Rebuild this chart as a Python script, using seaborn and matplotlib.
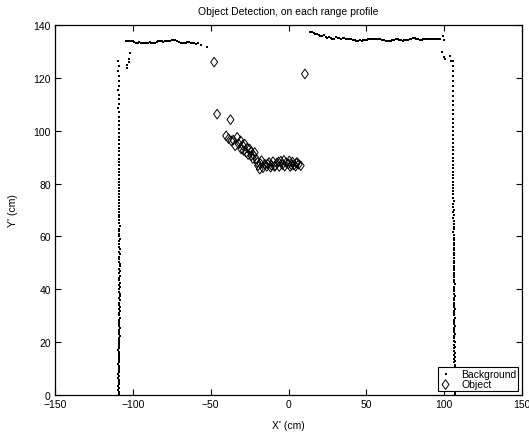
import matplotlib
matplotlib.use("Agg")
import matplotlib.pyplot as plt
import pandas as pd
import seaborn as sns

# ===== DATA =====
# left wall of the room
LW_Y = [0.4, 1.1, 1.9, 2.6, 3.4, 4.1, 4.9, 5.6, 6.4, 7.1,
        7.9, 8.6, 9.4, 10.1, 10.9, 11.6, 12.4, 13.1, 13.9, 14.6,
        15.4, 16.1, 16.9, 17.6, 18.4, 19.2, 19.9, 20.7, 21.5, 22.2,
        23.0, 23.8, 24.5, 25.3, 26.1, 26.9, 27.7, 28.5, 29.3, 30.1,
        30.9, 31.7, 32.5, 33.3, 34.1, 34.9, 35.8, 36.6, 37.4, 38.3,
        39.1, 40.0, 40.8, 41.7, 42.5, 43.4, 44.3, 45.1, 46.0, 46.9,
        47.8, 48.7, 49.6, 50.5, 51.4, 52.4, 53.3, 54.2, 55.2, 56.1,
        57.1, 58.1, 59.0, 60.0, 61.0, 62.0, 63.0, 64.0, 65.1, 66.1,
        67.2, 68.2, 69.3, 70.4, 71.5, 72.6, 73.7, 74.8, 76.0, 77.1,
        78.3, 79.5, 80.7, 81.9, 83.1, 84.4, 85.6, 86.9, 88.2, 89.5,
        90.9, 92.2, 93.6, 95.0, 96.4, 97.8, 99.3, 100.8, 102.3, 103.8,
        105.4, 107.0, 108.6, 110.2, 111.9, 113.6, 115.3, 117.1, 118.9, 120.7,
        122.6, 124.5, 126.4]
LW_X = [-109.2, -109.0, -109.3, -109.1, -109.4, -109.0, -109.2, -108.9, -109.3, -109.1,
        -109.4, -109.0, -109.2, -108.8, -109.1, -109.3, -108.9, -109.2, -109.0, -108.7,
        -109.1, -108.9, -109.3, -108.8, -109.0, -108.6, -108.9, -109.2, -108.8, -108.5,
        -108.9, -109.1, -108.7, -108.5, -108.8, -109.0, -108.6, -108.9, -108.4, -108.7,
        -108.9, -108.5, -108.8, -108.3, -108.6, -108.9, -108.5, -108.7, -108.4, -108.2,
        -108.6, -108.8, -108.4, -108.7, -108.5, -108.9, -108.6, -108.3, -108.7, -108.5,
        -108.8, -108.5, -108.3, -108.7, -108.9, -108.6, -108.4, -108.8, -108.5, -108.7,
        -108.9, -108.6, -108.4, -108.8, -108.6, -108.9, -108.7, -108.5, -108.8, -109.0,
        -108.7, -108.9, -108.6, -108.8, -109.0, -108.7, -108.9, -109.1, -108.8, -109.0,
        -108.8, -109.1, -108.9, -109.0, -108.8, -109.1, -108.9, -109.2, -109.0, -108.9,
        -109.1, -109.0, -109.2, -108.9, -109.1, -109.0, -109.2, -109.0, -109.1, -109.2,
        -109.0, -109.1, -109.3, -109.0, -109.2, -109.1, -109.3, -109.0, -109.2, -109.1,
        -109.3, -109.2, -109.4]

# stray returns in the top-left corner
LC_X = [-102.0, -102.3, -102.7, -103.6, -104.0]
LC_Y = [129.3, 127.0, 126.2, 124.8, 123.9]

# back wall, left part
TL_X = [-104.6, -103.5, -102.4, -101.3, -100.2, -99.1, -98.0, -96.9, -95.8, -94.7,
        -93.6, -92.5, -91.4, -90.3, -89.2, -88.1, -87.0, -85.9, -84.8, -83.7,
        -82.6, -81.5, -80.4, -79.3, -78.2, -77.1, -76.0, -74.9, -73.8, -72.7,
        -71.6, -70.5, -69.4, -68.3, -67.2, -66.1, -65.0, -63.9, -62.8, -61.7,
        -60.6, -59.5, -58.4, -56.0, -52.6]
TL_Y = [133.9, 134.0, 133.9, 133.8, 133.8, 133.5, 133.4, 133.4, 133.5, 133.4,
        133.4, 133.3, 133.4, 133.4, 133.5, 133.4, 133.3, 133.4, 133.6, 133.9,
        134.0, 133.8, 133.5, 133.9, 134.1, 133.9, 134.0, 134.2, 134.3, 134.2,
        133.8, 133.5, 133.4, 133.3, 133.3, 133.2, 133.5, 133.6, 133.4, 133.2,
        133.3, 133.0, 133.1, 132.6, 131.6]

# back wall, right part
TR_X = [13.9, 15.0, 16.1, 17.2, 18.3, 19.4, 20.5, 21.6, 22.7, 23.8,
        24.9, 26.0, 27.1, 28.2, 29.3, 30.4, 31.5, 32.6, 33.7, 34.8,
        35.9, 37.0, 38.1, 39.2, 40.3, 41.4, 42.5, 43.6, 44.7, 45.8,
        46.9, 48.0, 49.1, 50.2, 51.3, 52.4, 53.5, 54.6, 55.7, 56.8,
        57.9, 59.0, 60.1, 61.2, 62.3, 63.4, 64.5, 65.6, 66.7, 67.8,
        68.9, 70.0, 71.1, 72.2, 73.3, 74.4, 75.5, 76.6, 77.7, 78.8,
        79.9, 81.0, 82.1, 83.2, 84.3, 85.4, 86.5, 87.6, 88.7, 89.8,
        90.9, 92.0, 93.1, 94.2, 95.3, 96.4, 97.5, 99.1, 99.6]
TR_Y = [137.2, 137.2, 137.0, 136.8, 136.5, 136.2, 136.0, 135.8, 136.1, 135.6,
        135.3, 135.5, 135.0, 134.7, 134.9, 135.5, 135.2, 135.1, 134.9, 135.3,
        135.0, 134.8, 134.7, 134.9, 134.6, 134.5, 134.3, 134.1, 134.0, 134.2,
        134.0, 134.2, 134.4, 134.5, 134.6, 134.7, 134.8, 134.7, 134.6, 134.8,
        134.9, 134.7, 134.5, 134.2, 133.9, 133.8, 134.0, 134.1, 134.2, 134.4,
        134.6, 134.7, 134.5, 134.3, 134.1, 134.3, 134.5, 134.4, 134.6, 134.8,
        135.0, 135.2, 134.8, 134.6, 134.4, 134.5, 134.6, 134.7, 134.7, 134.7,
        134.8, 134.7, 134.7, 134.7, 134.7, 134.7, 134.8, 136.0, 134.3]

# stray returns in the top-right corner
RC_X = [98.7, 99.8, 100.6, 103.9, 104.5]
RC_Y = [129.7, 127.8, 127.1, 128.4, 126.5]

# right wall of the room
RW_Y = [0.2, 1.0, 1.7, 2.5, 3.2, 4.0, 4.7, 5.5, 6.2, 7.0,
        7.7, 8.5, 9.2, 10.0, 10.7, 11.5, 12.3, 13.0, 13.8, 14.5,
        15.3, 16.0, 16.8, 17.6, 18.3, 19.1, 19.9, 20.6, 21.4, 22.2,
        23.0, 23.7, 24.5, 25.3, 26.1, 26.9, 27.7, 28.5, 29.3, 30.1,
        30.9, 31.7, 32.6, 33.4, 34.2, 35.0, 35.9, 36.7, 37.6, 38.4,
        39.3, 40.1, 41.0, 41.9, 42.7, 43.6, 44.5, 45.4, 46.3, 47.2,
        48.1, 49.0, 50.0, 50.9, 51.8, 52.8, 53.7, 54.7, 55.7, 56.6,
        57.6, 58.6, 59.6, 60.6, 61.6, 62.7, 63.7, 64.8, 65.8, 66.9,
        68.0, 69.1, 70.2, 71.3, 72.4, 73.6, 74.7, 75.9, 77.1, 78.3,
        79.5, 80.7, 82.0, 83.2, 84.5, 85.8, 87.1, 88.4, 89.8, 91.2,
        92.6, 94.0, 95.4, 96.9, 98.4, 99.9, 101.4, 103.0, 104.6, 106.2,
        107.9, 109.6, 111.3, 113.1, 114.9, 116.8, 118.7, 120.6, 122.6, 124.6,
        126.6]
RW_X = [106.7, 106.9, 106.6, 106.8, 106.5, 106.9, 106.7, 106.4, 106.8, 106.6,
        106.9, 106.5, 106.7, 106.4, 106.8, 106.6, 106.3, 106.7, 106.5, 106.8,
        106.4, 106.6, 106.2, 106.5, 106.7, 106.3, 106.6, 106.4, 106.1, 106.5,
        106.7, 106.3, 106.5, 106.2, 106.6, 106.4, 106.0, 106.4, 106.6, 106.2,
        106.5, 106.3, 106.6, 106.2, 106.4, 106.1, 106.5, 106.3, 106.6, 106.4,
        106.1, 106.5, 106.3, 106.6, 106.2, 106.4, 106.0, 106.3, 106.5, 106.2,
        106.4, 106.1, 106.3, 106.5, 106.2, 106.4, 106.0, 106.3, 106.1, 106.4,
        106.2, 106.0, 106.3, 106.1, 105.9, 106.2, 106.0, 106.3, 106.1, 105.9,
        106.1, 105.8, 106.0, 105.9, 105.7, 106.0, 105.8, 105.6, 105.9, 105.7,
        105.8, 105.5, 105.7, 105.6, 105.4, 105.7, 105.5, 105.6, 105.4, 105.6,
        105.5, 105.3, 105.5, 105.4, 105.6, 105.4, 105.5, 105.3, 105.5, 105.4,
        105.6, 105.4, 105.5, 105.3, 105.5, 105.4, 105.6, 105.5, 105.4, 105.3,
        105.5]

# detected object
OBJ_X = [-47.8, 10.5, -45.9, -37.3, -40.1, -36.8, -34.3, -33.0, -30.8, -30.4,
         -28.2, -27.1, -25.0, -23.9, -21.8, -20.7, -19.6, -18.5, -17.4, -15.3,
         -29.5, -26.5, -24.2, -22.5, -32.0, -35.5, -38.5, -28.8, -26.0, -23.0,
         -20.0, -18.0, -16.5, -14.0, -12.5, -11.0, -10.0, -8.5, -7.5, -6.0,
         -5.0, -4.0, -2.5, -1.5, 0.0, 1.0, 2.5, 3.5, 4.5, 5.5,
         6.5, 7.8, -13.5, -9.0, -3.0, 2.0, 5.0, -6.5, 0.5, -11.5]
OBJ_Y = [126.0, 121.5, 106.3, 104.2, 98.1, 96.2, 94.3, 97.5, 96.2, 93.1,
         95.0, 91.8, 93.1, 90.6, 91.8, 89.3, 86.8, 85.5, 88.7, 87.4,
         94.5, 93.5, 92.0, 90.8, 95.0, 96.5, 97.0, 92.5, 91.0, 89.5,
         88.0, 87.5, 86.0, 86.5, 88.0, 87.0, 88.3, 86.8, 87.8, 86.5,
         88.5, 87.2, 86.6, 88.0, 87.5, 86.5, 88.2, 87.0, 86.6, 88.0,
         87.3, 86.8, 87.5, 86.5, 88.8, 87.0, 87.8, 88.2, 88.6, 86.2]

X_TICKS = [-150, -100, -50, 0, 50, 100, 150]
Y_TICKS = [0, 20, 40, 60, 80, 100, 120, 140]

# MATLAB-style diamond (a bit taller than wide)
DIAMOND = [(-0.36, 0.0), (0.0, 0.5), (0.36, 0.0), (0.0, -0.5), (-0.36, 0.0)]


def plot_results():
    bg = pd.DataFrame({
        "x": LW_X + LC_X + TL_X + TR_X + RC_X + RW_X,
        "y": LW_Y + LC_Y + TL_Y + TR_Y + RC_Y + RW_Y,
    })
    obj = pd.DataFrame({"x": OBJ_X, "y": OBJ_Y})

    sns.set_theme(style="ticks", rc={
        "axes.edgecolor": "black", "xtick.color": "black", "ytick.color": "black",
        "text.color": "black", "axes.labelcolor": "black",
    })
    plt.rcParams["font.family"] = ["Liberation Sans", "DejaVu Sans"]

    fig, ax = plt.subplots(figsize=(5.29, 4.35), dpi=100)
    fig.subplots_adjust(left=0.104, right=0.987, bottom=0.0897, top=0.940)

    sns.scatterplot(data=bg, x="x", y="y", ax=ax, marker="s", s=4,
                    color="black", linewidth=0, label="Background")
    sns.scatterplot(data=obj, x="x", y="y", ax=ax, marker=DIAMOND, s=48,
                    facecolor="none", edgecolor="black", linewidth=0.7,
                    label="Object")

    ax.set_xlim(-150, 150)
    ax.set_ylim(0, 140)
    ax.set_xticks(X_TICKS)
    ax.set_yticks(Y_TICKS)
    ax.tick_params(direction="in", top=True, right=True, bottom=True, left=True,
                   length=4, width=0.8, labelsize=7.5, pad=3)
    for sp in ax.spines.values():
        sp.set_visible(True)
        sp.set_linewidth(0.9)

    ax.set_xlabel("X' (cm)", fontsize=7.5, labelpad=8)
    ax.set_ylabel("Y' (cm)", fontsize=7.5, labelpad=11)
    ax.set_title("Object Detection, on each range profile", fontsize=7.5, pad=8)

    leg = ax.legend(loc="lower right", fontsize=7.5, frameon=True, fancybox=False,
                    edgecolor="black", framealpha=1, borderaxespad=0.4,
                    borderpad=0.15, labelspacing=0.05, handletextpad=0.9,
                    handlelength=1.2, markerscale=1.0)
    leg.get_frame().set_linewidth(0.8)

    fig.savefig("out.png", dpi=100)


if __name__ == "__main__":
    plot_results()
